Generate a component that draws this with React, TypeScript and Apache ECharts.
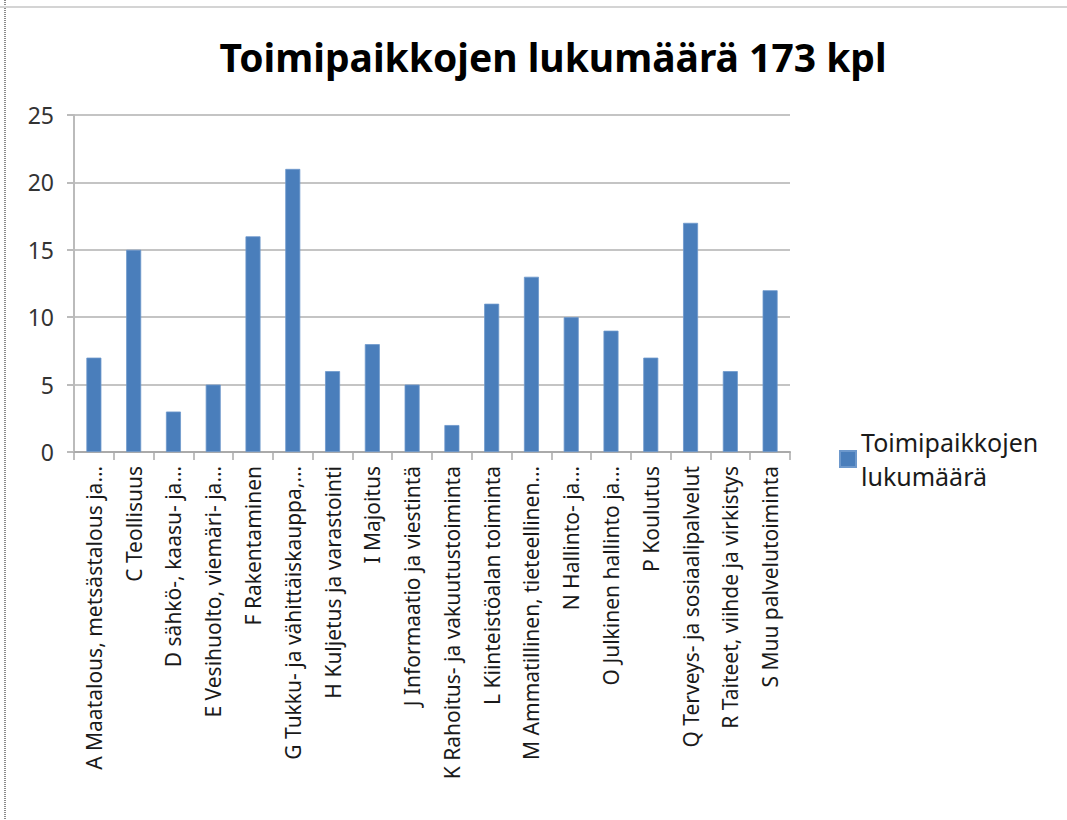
import React, { useEffect, useRef } from "react";
import * as echarts from "echarts";

const titleText = "Toimipaikkojen lukumäärä 173 kpl";
const seriesName = "Toimipaikkojen lukumäärä";
const categories = [
  "A Maatalous, metsästalous ja…",
  "C Teollisuus",
  "D sähkö-, kaasu- ja…",
  "E Vesihuolto, viemäri- ja…",
  "F Rakentaminen",
  "G Tukku- ja vähittäiskauppa,…",
  "H Kuljetus ja varastointi",
  "I Majoitus",
  "J Informaatio ja viestintä",
  "K Rahoitus- ja vakuutustoiminta",
  "L Kiinteistöalan toiminta",
  "M Ammatillinen, tieteellinen…",
  "N Hallinto- ja…",
  "O Julkinen hallinto ja…",
  "P Koulutus",
  "Q Terveys- ja sosiaalipalvelut",
  "R Taiteet, viihde ja virkistys",
  "S Muu palvelutoiminta",
];
const values = [7, 15, 3, 5, 16, 21, 6, 8, 5, 2, 11, 13, 10, 9, 7, 17, 6, 12];
const yMin = 0;
const yMax = 25;
const yInterval = 5;

export default function App() {
  const ref = useRef<HTMLDivElement>(null);
  useEffect(() => {
    if (!ref.current) return;
    const chart = echarts.init(ref.current, null, { renderer: "svg" });
    const font = "Noto Sans";
    chart.setOption({
      animation: false,
      backgroundColor: "#ffffff",
      title: {
        text: titleText,
        left: 548,
        textAlign: "center",
        top: 32,
        textStyle: { fontFamily: font, fontWeight: "bold", fontSize: 39, color: "#000000" },
      },
      legend: {
        left: 834,
        top: 420,
        orient: "vertical",
        itemWidth: 16,
        itemHeight: 16,
        icon: "rect",
        itemGap: 6,
        data: [seriesName],
        formatter: () => "Toimipaikkojen\nlukumäärä",
        textStyle: { fontFamily: font, fontSize: 25, lineHeight: 34, color: "#1a1a1a", padding: [0, 0, 0, 0] },
      },
      grid: { left: 74, right: 277, top: 115, bottom: 368, containLabel: false },
      xAxis: {
        type: "category",
        data: categories,
        axisLine: { show: true, lineStyle: { color: "#aaaaaa", width: 2 } },
        axisTick: { show: true, length: 8, lineStyle: { color: "#aaaaaa", width: 1.5 } },
        axisLabel: {
          interval: 0,
          rotate: 90,
          margin: 14,
          fontFamily: font,
          fontSize: 21,
          color: "#1a1a1a",
        },
      },
      yAxis: {
        type: "value",
        min: yMin,
        max: yMax,
        interval: yInterval,
        axisLine: { show: true, lineStyle: { color: "#bbbbbb", width: 2 } },
        axisTick: { show: true, length: 7, lineStyle: { color: "#bbbbbb", width: 2 } },
        splitLine: { show: true, lineStyle: { color: "#c4c4c4", width: 2 } },
        axisLabel: { margin: 20, fontFamily: font, fontSize: 23, color: "#333333" },
      },
      series: [
        {
          name: seriesName,
          type: "bar",
          data: values,
          barWidth: 15,
          itemStyle: { color: "#4a7ebb", borderColor: "#6d98cc", borderWidth: 0.8 },
        },
      ],
      graphic: [
        {
          type: "line",
          shape: { x1: 5, y1: 0, x2: 5, y2: 820 },
          style: { stroke: "#8a8a8a", lineWidth: 2, lineDash: [1, 1] },
        },
        {
          type: "line",
          shape: { x1: 0, y1: 7, x2: 1067, y2: 7 },
          style: { stroke: "#d4d4d4", lineWidth: 2 },
        },
      ],
    });
    return () => chart.dispose();
  }, []);
  return (
    <div
      ref={ref}
      style={{ position: "fixed", left: 0, top: 0, width: 1067, height: 820 }}
    />
  );
}
